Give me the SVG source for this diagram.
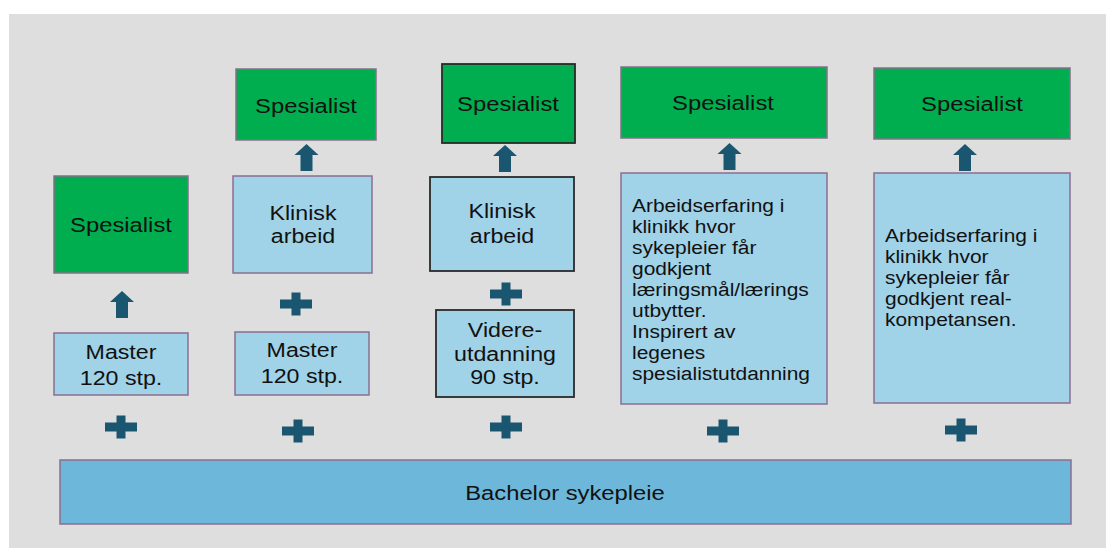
<svg xmlns="http://www.w3.org/2000/svg" width="1106" height="548" viewBox="0 0 1106 548">
  <style>
    .bg { fill: #dedede; }
    .spec { fill: #00ae4f; stroke: #85708a; stroke-width: 1.5; }
    .box { fill: #a0d2e8; stroke: #8c6e90; stroke-width: 1.5; }
    .dark { stroke: #2a2a2a; stroke-width: 1.8; }
    .base { fill: #6db7da; stroke: #8c6e90; stroke-width: 1.5; }
    .c { font-family: "Liberation Sans", Arial, sans-serif; font-size: 19.5px; fill: #111; text-anchor: middle; }
    .s { font-size: 20px; }
    .l { font-family: "Liberation Sans", Arial, sans-serif; font-size: 17.6px; fill: #111; }
    .sym { fill: #1b5670; }
  </style>
  <defs>
    <path id="up" d="M0,0 L12,11 L6,11 L6,27 L-6,27 L-6,11 L-12,11 Z"/>
    <path id="plus" d="M-4.5,-11.5 H4.5 V-4.5 H16 V4.5 H4.5 V11.5 H-4.5 V4.5 H-16 V-4.5 H-4.5 Z"/>
  </defs>

  <rect class="bg" x="9" y="14" width="1097" height="534"/>

  <!-- column 1: master leading to specialist -->
  <g id="col1-spesialist">
    <rect class="spec" x="54" y="176" width="134" height="97"/>
    <text class="c s" transform="translate(121 232) scale(1.19 1)">Spesialist</text>
  </g>
  <g id="col1-master">
    <rect class="box" x="54" y="333" width="134" height="62"/>
    <text class="c" transform="translate(121 359) scale(1.19 1)"><tspan x="0">Master</tspan><tspan x="0" dy="26">120 stp.</tspan></text>
  </g>

  <!-- column 2: master plus clinical work -->
  <g id="col2-spesialist">
    <rect class="spec" x="236" y="69" width="140" height="71"/>
    <text class="c s" transform="translate(306 113) scale(1.19 1)">Spesialist</text>
  </g>
  <g id="col2-klinisk">
    <rect class="box" x="233" y="176" width="139" height="97"/>
    <text class="c" transform="translate(303 220) scale(1.19 1)"><tspan x="0">Klinisk</tspan><tspan x="0" dy="23.5">arbeid</tspan></text>
  </g>
  <g id="col2-master">
    <rect class="box" x="235" y="332" width="134" height="63"/>
    <text class="c" transform="translate(302 357) scale(1.19 1)"><tspan x="0">Master</tspan><tspan x="0" dy="26">120 stp.</tspan></text>
  </g>

  <!-- column 3: further education plus clinical work -->
  <g id="col3-spesialist">
    <rect class="spec dark" x="442" y="64" width="133" height="79"/>
    <text class="c s" transform="translate(508 111) scale(1.19 1)">Spesialist</text>
  </g>
  <g id="col3-klinisk">
    <rect class="box dark" x="430" y="177" width="144" height="94"/>
    <text class="c" transform="translate(502 218) scale(1.19 1)"><tspan x="0">Klinisk</tspan><tspan x="0" dy="25">arbeid</tspan></text>
  </g>
  <g id="col3-videre">
    <rect class="box dark" x="436" y="310" width="138" height="87"/>
    <text class="c" transform="translate(505 337) scale(1.19 1)"><tspan x="0">Videre-</tspan><tspan x="0" dy="24">utdanning</tspan><tspan x="0" dy="23.5">90 stp.</tspan></text>
  </g>

  <!-- column 4: approved learning outcomes -->
  <g id="col4-spesialist">
    <rect class="spec" x="621" y="67" width="206" height="71"/>
    <text class="c s" transform="translate(723 110) scale(1.19 1)">Spesialist</text>
  </g>
  <g id="col4-arbeid">
    <rect class="box" x="621" y="173" width="206" height="231"/>
    <text class="l" transform="translate(632 212) scale(1.19 1)"><tspan x="0">Arbeidserfaring i</tspan><tspan x="0" dy="21">klinikk hvor</tspan><tspan x="0" dy="21">sykepleier får</tspan><tspan x="0" dy="21">godkjent</tspan><tspan x="0" dy="21">læringsmål/lærings</tspan><tspan x="0" dy="21">utbytter.</tspan><tspan x="0" dy="21">Inspirert av</tspan><tspan x="0" dy="21">legenes</tspan><tspan x="0" dy="21">spesialistutdanning</tspan></text>
  </g>

  <!-- column 5: approved prior competence -->
  <g id="col5-spesialist">
    <rect class="spec" x="874" y="68" width="196" height="71"/>
    <text class="c s" transform="translate(972 111) scale(1.19 1)">Spesialist</text>
  </g>
  <g id="col5-arbeid">
    <rect class="box" x="874" y="173" width="196" height="230"/>
    <text class="l" transform="translate(885 242) scale(1.19 1)"><tspan x="0">Arbeidserfaring i</tspan><tspan x="0" dy="21">klinikk hvor</tspan><tspan x="0" dy="21">sykepleier får</tspan><tspan x="0" dy="21">godkjent real-</tspan><tspan x="0" dy="21">kompetansen.</tspan></text>
  </g>

  <!-- shared base -->
  <g id="bachelor">
    <rect class="base" x="60" y="460" width="1011" height="64"/>
    <text class="c s" transform="translate(565 500) scale(1.19 1)">Bachelor sykepleie</text>
  </g>

  <!-- arrows and plus signs between the blocks -->
  <g id="connectors" class="sym">
    <use href="#up" x="122" y="291"/>
    <use href="#up" x="306.5" y="144"/>
    <use href="#up" x="505" y="145"/>
    <use href="#up" x="729.5" y="143"/>
    <use href="#up" x="965" y="144"/>

    <use href="#plus" x="296" y="304"/>
    <use href="#plus" x="506" y="294"/>

    <use href="#plus" x="121" y="427"/>
    <use href="#plus" x="298" y="431"/>
    <use href="#plus" x="506" y="427"/>
    <use href="#plus" x="723" y="431"/>
    <use href="#plus" x="961" y="430"/>
  </g>
</svg>
